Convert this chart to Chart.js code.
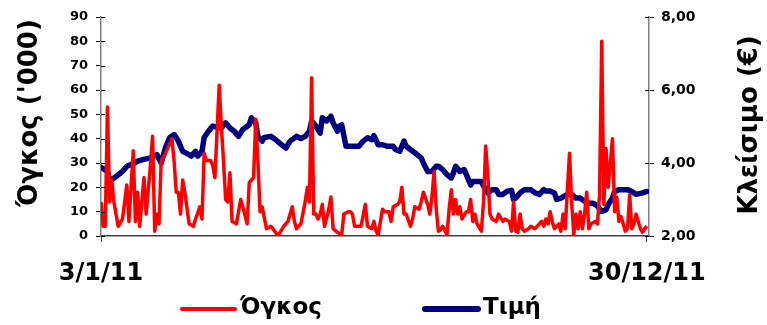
<!DOCTYPE html>
<html>
<head>
<meta charset="utf-8">
<script src="https://cdn.jsdelivr.net/npm/chart.js@4.4.0/dist/chart.umd.min.js"></script>
<style>
  html, body { margin: 0; padding: 0; background: #fff; }
</style>
</head>
<body>
<canvas id="chart" width="767" height="325"></canvas>
<script>
// x ticks: only first and last trading day get a label
const tickDays = [0, 254];
const tickLabels = ['3/1/11', '30/12/11'];
const seriesNames = ['Όγκος', 'Τιμή'];
const axisTitles = ["Όγκος ('000)", 'Κλείσιμο (€)'];

// volume ('000), trading day index -> value
const volumeDays = [0,1,2,3,4,5,6,8,10,12,13,15,16,17,18,19,20,21,23,24,25,26,27,28,30,31,33,34,35,36,37,38,39,41,43,44,46,47,48,49,51,52,53,55,56,57,58,59,60,61,63,65,66,68,69,71,72,73,74,75,77,79,80,82,83,85,87,88,89,90,91,93,95,96,97,98,99,100,101,102,103,104,106,107,108,110,112,113,115,116,117,118,120,121,123,124,126,127,128,129,131,132,134,135,136,138,139,140,141,142,144,145,146,148,149,150,152,153,154,155,156,157,158,159,161,162,163,164,165,166,167,168,170,171,172,173,174,175,177,178,179,180,181,182,184,185,187,188,190,191,192,193,194,195,196,197,199,200,202,204,205,206,207,208,209,210,211,213,214,215,216,218,219,220,221,222,223,224,225,226,227,228,230,231,232,233,234,235,236,238,239,240,241,242,244,245,246,247,248,249,251,252,253,254];
const volumeValues = [14,4,4,53,14,23,14,4,7,21,6,35,6,18,4,14,24,9,29,41,2,9,5,31,34,36,40,31,18,18,9,23,18,5,4,7,12,7,34,31,31,29,24,62,45,31,15,14,26,6,5,15,12,5,22,24,48,31,10,12,3,4,3,0.5,1,4,6,9,12,6,3,5,14,20,14,65,9,9,7,9,13,4,11,16,3,1.5,0.5,9,10,10,9,4,4,4,13,4,3,6,2,0.5,11,10,10,6,12,13,14,20,9,9,4,7,12,11,14,18,13,9,16,26.5,11,2,2.5,4,0.5,11,19,9,15,9,12,7,10,10,15,6,9,5,2,14,37,25,9,7,6,9,6,7,6,2,14,2,1.5,9,3,2,3,4,3,5,6,4,7,5,10,6,3,5,2,9,3,34,14,0.5,9,3,10,3,9,18,3,5,6,5,17,80,13,36,20,40,10,16,6,8,2,3,17,3,5,9,3,1.5,3,4];

// closing price (EUR)
const priceDays = [0,3,4,7,10,12,14,17,20,23,26,28,30,32,34,36,38,41,42,44,45,47,48,50,52,55,56,58,60,62,64,66,69,70,72,73,75,76,79,81,83,86,88,91,93,95,97,98,100,102,103,105,107,108,110,111,112,114,116,118,120,122,124,126,127,129,131,133,136,137,139,141,142,144,146,149,150,152,154,156,157,159,161,163,164,165,167,169,170,172,173,175,177,178,180,182,184,185,187,189,191,192,193,195,197,200,202,204,206,207,209,211,212,214,217,219,221,223,225,227,229,231,233,235,236,238,239,241,243,245,247,249,252,254];
const priceValues = [3.88,3.77,3.5,3.63,3.77,3.91,3.96,4.05,4.1,4.14,4.23,4.0,4.42,4.7,4.78,4.6,4.32,4.23,4.19,4.32,4.19,4.32,4.7,4.87,5.01,4.96,4.96,5.1,4.96,4.87,4.73,4.92,5.05,5.24,5.1,4.73,4.6,4.7,4.73,4.65,4.55,4.41,4.6,4.73,4.67,4.73,4.87,5.15,5.01,4.82,5.24,5.15,5.28,5.1,4.87,5.01,5.05,4.46,4.46,4.46,4.46,4.6,4.69,4.64,4.75,4.5,4.5,4.46,4.46,4.37,4.32,4.6,4.46,4.37,4.28,4.14,4.0,3.77,3.77,3.91,3.91,3.82,3.68,3.59,3.73,3.91,3.77,3.82,3.68,3.4,3.49,3.49,3.49,3.37,3.18,3.27,3.27,3.14,3.14,3.23,3.25,3.0,3.04,3.18,3.27,3.27,3.18,3.14,3.27,3.23,3.23,3.18,3.0,3.04,3.14,3.14,3.04,3.04,2.95,2.9,2.9,2.82,2.67,2.72,2.86,3.04,3.22,3.27,3.27,3.27,3.22,3.14,3.18,3.22];

const FONT = "'DejaVu Sans', Verdana, sans-serif";
const RED = '#ff0000';
const NAVY = '#000080';

// axis titles (both read bottom-to-top), inner half of the crossing ticks, legend
const extras = {
  id: 'extras',
  afterDraw(chart) {
    const c = chart.ctx;
    const area = chart.chartArea;
    c.save();

    c.strokeStyle = '#000';
    c.lineWidth = 1;
    [['y', area.left, 4], ['y1', area.right, -4]].forEach(([id, x, dx]) => {
      const s = chart.scales[id];
      s.ticks.forEach(t => {
        const y = Math.round(s.getPixelForValue(t.value)) + 0.5;
        c.beginPath();
        c.moveTo(x, y);
        c.lineTo(x + dx, y);
        c.stroke();
      });
    });

    c.fillStyle = '#000';
    c.font = 'bold 26px ' + FONT;
    c.textAlign = 'center';
    c.textBaseline = 'middle';
    [[30, 113, axisTitles[0]], [750, 125, axisTitles[1]]].forEach(([x, y, t]) => {
      c.save();
      c.translate(x, y);
      c.rotate(-Math.PI / 2);
      c.fillText(t, 0, 0);
      c.restore();
    });

    c.font = 'bold 23px ' + FONT;
    c.textAlign = 'left';
    c.lineCap = 'round';
    const items = [[180, RED, 4], [423, NAVY, 6]];
    items.forEach(([x, col, w], i) => {
      c.strokeStyle = col;
      c.lineWidth = w;
      c.beginPath();
      c.moveTo(x + 2, 309);
      c.lineTo(x + 55, 309);
      c.stroke();
      c.fillText(seriesNames[i], x + 60, 308);
    });
    c.restore();
  }
};

new Chart(document.getElementById('chart'), {
  type: 'line',
  data: {
    datasets: [
      {
        label: seriesNames[0],
        data: volumeDays.map((d, i) => ({ x: d, y: volumeValues[i] })),
        borderColor: RED,
        borderWidth: 3.5,
        pointRadius: 0,
        tension: 0,
        borderJoinStyle: 'round',
        yAxisID: 'y'
      },
      {
        label: seriesNames[1],
        data: priceDays.map((d, i) => ({ x: d, y: priceValues[i] })),
        borderColor: NAVY,
        borderWidth: 5.5,
        pointRadius: 0,
        tension: 0,
        borderJoinStyle: 'round',
        borderCapStyle: 'round',
        yAxisID: 'y1'
      }
    ]
  },
  options: {
    responsive: false,
    animation: false,
    devicePixelRatio: 1,
    layout: { padding: { top: 17, left: 0, right: 0, bottom: 0 } },
    plugins: { legend: { display: false }, tooltip: { enabled: false } },
    scales: {
      x: {
        type: 'linear',
        min: 0,
        max: 255,
        afterBuildTicks: s => { s.ticks = tickDays.map(v => ({ value: v })); },
        afterFit: s => { s.height = 89; },
        ticks: {
          autoSkip: false,
          maxRotation: 0,
          padding: 17,
          color: '#000',
          font: { family: FONT, size: 24, weight: 'bold' },
          callback: v => tickLabels[tickDays.indexOf(v)]
        },
        grid: { drawOnChartArea: false, tickLength: 6, color: '#404040' },
        border: { color: '#404040', width: 1.5 }
      },
      y: {
        position: 'left',
        min: 0,
        max: 90,
        afterFit: s => { s.width = 101; },
        ticks: { stepSize: 10, padding: 8, color: '#000', font: { family: FONT, size: 13, weight: 'bold' } },
        grid: { drawOnChartArea: false, tickLength: 5, color: '#000' },
        border: { color: '#808080', width: 1.5 }
      },
      y1: {
        position: 'right',
        min: 2,
        max: 8,
        afterFit: s => { s.width = 118; },
        ticks: {
          stepSize: 2,
          padding: 7,
          color: '#000',
          font: { family: FONT, size: 14, weight: 'bold' },
          callback: v => v.toFixed(2).replace('.', ',')
        },
        grid: { drawOnChartArea: false, tickLength: 5, color: '#000' },
        border: { color: '#808080', width: 1.5 }
      }
    }
  },
  plugins: [extras]
});
</script>
</body>
</html>
